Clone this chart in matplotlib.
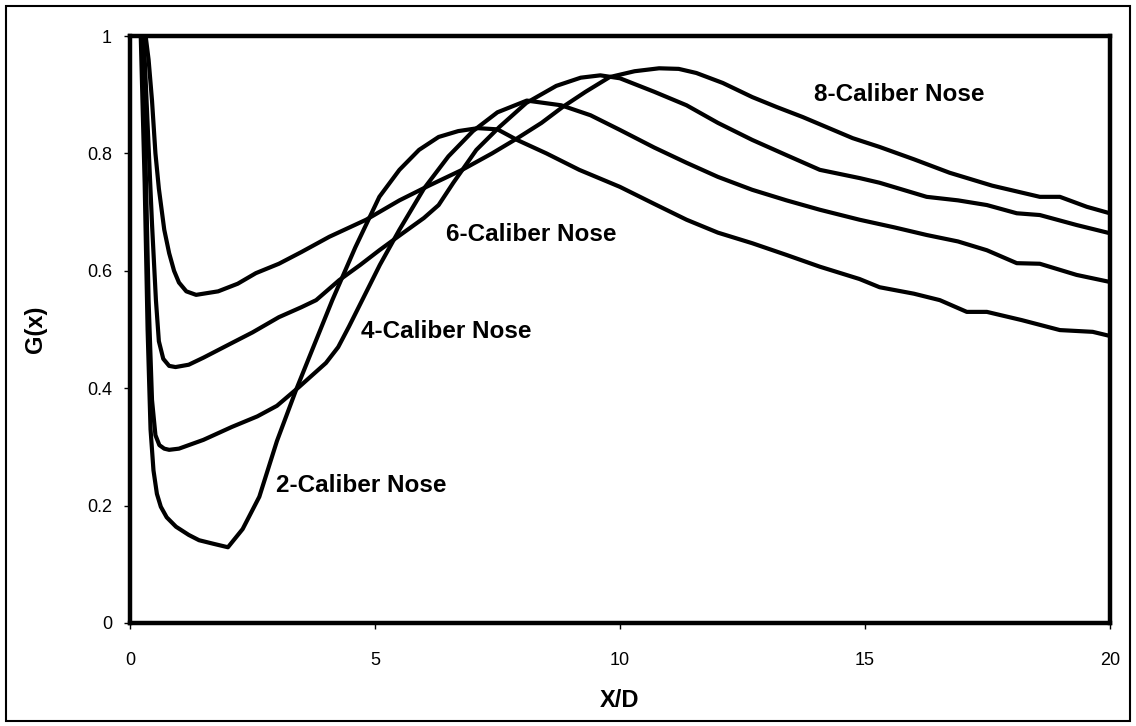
import matplotlib
matplotlib.use("Agg")
import matplotlib.pyplot as plt
from matplotlib.patches import Rectangle

plt.rcParams['font.family'] = ['Liberation Sans', 'DejaVu Sans']

# ---- data ----
x_2cal = [0.22, 0.30, 0.36, 0.42, 0.48, 0.55, 0.63, 0.75, 0.94, 1.2, 1.41, 1.7, 2.0, 2.3, 2.64, 3.0, 3.39, 3.66,
          4.13, 4.6, 5.09, 5.5, 5.9, 6.3, 6.7, 7.1, 7.5, 7.9, 8.5, 9.17, 10.0, 10.7, 11.36, 12.0, 12.7, 13.4,
          14.08, 14.89, 15.3, 16.0, 16.53, 17.08, 17.49, 18.2, 18.98, 19.65, 20.0]
y_2cal = [1.0, 0.75, 0.5, 0.33, 0.26, 0.22, 0.198, 0.18, 0.164, 0.15, 0.141, 0.135, 0.129, 0.16, 0.215, 0.31, 0.397,
          0.453, 0.55, 0.64, 0.726, 0.772, 0.806, 0.828, 0.838, 0.843, 0.841, 0.823, 0.80, 0.772, 0.743, 0.714,
          0.687, 0.665, 0.647, 0.627, 0.607, 0.586, 0.572, 0.561, 0.55, 0.53, 0.53, 0.516, 0.499, 0.496, 0.489]

x_4cal = [0.25, 0.32, 0.38, 0.45, 0.52, 0.6, 0.7, 0.8, 1.0, 1.5, 2.08, 2.6, 3.0, 3.45, 4.0, 4.25, 4.47, 4.8, 5.1,
          5.5, 6.0, 6.5, 7.0, 7.5, 8.1, 8.8, 9.4, 10.0, 10.7, 11.36, 12.0, 12.7, 13.4, 14.08, 14.89, 15.6, 16.26,
          16.9, 17.49, 18.1, 18.57, 19.32, 20.0]
y_4cal = [1.0, 0.78, 0.55, 0.38, 0.32, 0.303, 0.297, 0.295, 0.297, 0.312, 0.334, 0.352, 0.37, 0.402, 0.443, 0.47,
          0.505, 0.56, 0.61, 0.67, 0.74, 0.795, 0.838, 0.87, 0.89, 0.882, 0.865, 0.84, 0.81, 0.784, 0.76, 0.738,
          0.72, 0.704, 0.687, 0.674, 0.661, 0.65, 0.635, 0.613, 0.612, 0.593, 0.581]

x_6cal = [0.28, 0.36, 0.45, 0.53, 0.59, 0.68, 0.8, 0.93, 1.2, 1.5, 2.08, 2.5, 3.04, 3.5, 3.8, 4.27, 4.7, 5.09, 5.5,
          6.0, 6.3, 6.6, 7.07, 7.54, 8.09, 8.7, 9.2, 9.6, 10.0, 10.7, 11.36, 12.0, 12.7, 13.4, 14.08, 14.89, 15.3,
          16.26, 16.9, 17.49, 18.1, 18.57, 19.32, 20.0]
y_6cal = [1.0, 0.85, 0.68, 0.55, 0.48, 0.45, 0.438, 0.436, 0.44, 0.452, 0.477, 0.495, 0.521, 0.538, 0.55, 0.584,
          0.61, 0.635, 0.66, 0.69, 0.712, 0.75, 0.806, 0.845, 0.886, 0.915, 0.929, 0.933, 0.928, 0.905, 0.882,
          0.852, 0.823, 0.797, 0.772, 0.758, 0.75, 0.726, 0.72, 0.712, 0.698, 0.695, 0.678, 0.664]

x_8cal = [0.32, 0.38, 0.45, 0.52, 0.59, 0.7, 0.8, 0.9, 1.0, 1.15, 1.35, 1.8, 2.2, 2.57, 3.04, 3.5, 4.07, 4.82, 5.5,
          6.1, 6.78, 7.39, 7.89, 8.4, 8.83, 9.3, 9.79, 10.3, 10.8, 11.2, 11.56, 12.1, 12.7, 13.2, 13.73, 14.75,
          15.3, 16.0, 16.73, 17.6, 18.57, 18.98, 19.53, 20.0]
y_8cal = [1.0, 0.96, 0.89, 0.80, 0.74, 0.67, 0.63, 0.60, 0.58, 0.565, 0.559, 0.565, 0.578, 0.596, 0.612, 0.632,
          0.658, 0.687, 0.72, 0.745, 0.772, 0.80, 0.825, 0.852, 0.879, 0.905, 0.93, 0.94, 0.945, 0.944, 0.937,
          0.92, 0.896, 0.879, 0.862, 0.826, 0.811, 0.79, 0.767, 0.745, 0.726, 0.726, 0.709, 0.698]

series_labels = ["2-Caliber Nose", "4-Caliber Nose", "6-Caliber Nose", "8-Caliber Nose"]
label_x = [4.72, 6.46, 8.19, 15.71]
label_y = [0.235, 0.496, 0.661, 0.9]

x_ticks = [0, 5, 10, 15, 20]
y_ticks = [0, 0.2, 0.4, 0.6, 0.8, 1]
y_tick_labels = ["0", "0.2", "0.4", "0.6", "0.8", "1"]

# ---- figure ----
fig = plt.figure(figsize=(11.36, 7.26), dpi=100)
ax = fig.add_axes([0.1144, 0.1419, 0.8626, 0.8085])

for xs, ys in [(x_2cal, y_2cal), (x_4cal, y_4cal), (x_6cal, y_6cal), (x_8cal, y_8cal)]:
    ax.plot(xs, ys, color='black', linewidth=3.0, solid_joinstyle='round', solid_capstyle='round')

for txt, lx, ly in zip(series_labels, label_x, label_y):
    ax.text(lx, ly, txt, fontsize=17.5, fontweight='bold', ha='center', va='center')

ax.set_xlim(0, 20)
ax.set_ylim(0, 1)
ax.set_xticks(x_ticks)
ax.set_xticklabels([str(t) for t in x_ticks])
ax.set_yticks(y_ticks)
ax.set_yticklabels(y_tick_labels)
ax.tick_params(axis='x', direction='out', length=4, width=1, pad=17, labelsize=13)
ax.tick_params(axis='y', direction='out', length=4, width=1, pad=9, labelsize=13)

for sp in ax.spines.values():
    sp.set_linewidth(3.2)
    sp.set_color('black')

ax.set_xlabel("X/D", fontsize=17, fontweight='bold')
ax.xaxis.set_label_coords(0.5, -0.112)
ax.set_ylabel("G(x)", fontsize=17, fontweight='bold')
ax.yaxis.set_label_coords(-0.085, 0.5)

# outer frame around the whole chart
fig.patches.append(Rectangle((6 / 1136, 5 / 726), 1124 / 1136, 715 / 726, transform=fig.transFigure,
                             fill=False, edgecolor='black', linewidth=1.5))

fig.savefig("out.png", dpi=100)
